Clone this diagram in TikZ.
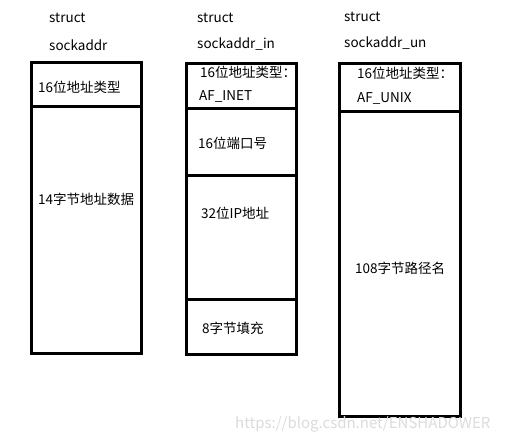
\documentclass[tikz,border=0pt]{standalone}
\usepackage{fontspec}
\newfontfamily\cjkfont{Noto Sans CJK SC}
\usetikzlibrary{positioning}
\tikzset{
      fieldbox/.style={
        draw=black,
        line width=3pt,
        anchor=north west,
        inner sep=0pt
      },
      fieldtext/.style={
        anchor=west,
        inner sep=0pt,
        font=\cjkfont\fontsize{13.5}{15}\selectfont
      },
      marktext/.style={
        anchor=west,
        inner sep=0pt,
        text=black!14,
        font=\cjkfont\fontsize{15}{17}\selectfont
      }
    }
\begin{document}
\begin{tikzpicture}[x=1pt,y=-1pt]
    \useasboundingbox (0,0) rectangle (508,442);
    % struct sockaddr
    \node[fieldtext] (t0a) at (49,18) {struct};
    \node[fieldtext] (t0b) at (49,45) {sockaddr};
    \node[fieldbox, minimum width=110pt, minimum height=44pt] (a0) at (30,61) {};
    \node[fieldbox, minimum width=110pt, minimum height=247pt] (a1) at (30,105) {};
    \node[fieldtext] (a0t) at (38,87) {16位地址类型};
    \node[fieldtext] (a1t) at (38,199) {14字节地址数据};
    % struct sockaddr_in
    \node[fieldtext] (t1a) at (197,18) {struct};
    \node[fieldtext] (t1b) at (197,44) {sockaddr\_in};
    \node[fieldbox, minimum width=110pt, minimum height=45pt] (b0) at (185,62) {};
    \node[fieldbox, minimum width=110pt, minimum height=67pt] (b1) at (185,107) {};
    \node[fieldbox, minimum width=110pt, minimum height=124pt] (b2) at (185,174) {};
    \node[fieldbox, minimum width=110pt, minimum height=55pt] (b3) at (185,298) {};
    \node[fieldtext] (b0t) at (200,72) {16位地址类型：};
    \node[fieldtext] (b0u) at (199,96) {AF\_INET};
    \node[fieldtext] (b1t) at (198,143) {16位端口号};
    \node[fieldtext] (b2t) at (201,213) {32位IP地址};
    \node[fieldtext] (b3t) at (202,328) {8字节填充};
    % struct sockaddr_un
    \node[fieldtext] (t2a) at (344,17) {struct};
    \node[fieldtext] (t2b) at (344,43) {sockaddr\_un};
    \node[fieldbox, minimum width=121pt, minimum height=48pt] (c0) at (338,62) {};
    \node[fieldbox, minimum width=121pt, minimum height=305pt] (c1) at (338,110) {};
    \node[fieldtext] (c0t) at (357,73) {16位地址类型：};
    \node[fieldtext] (c0u) at (357,98) {AF\_UNIX};
    \node[fieldtext] (c1t) at (355,268) {108字节路径名};
    \node[marktext] (wm) at (235,424) {https://blog.csdn.net/ENSHADOWER};
    \end{tikzpicture}
\end{document}
